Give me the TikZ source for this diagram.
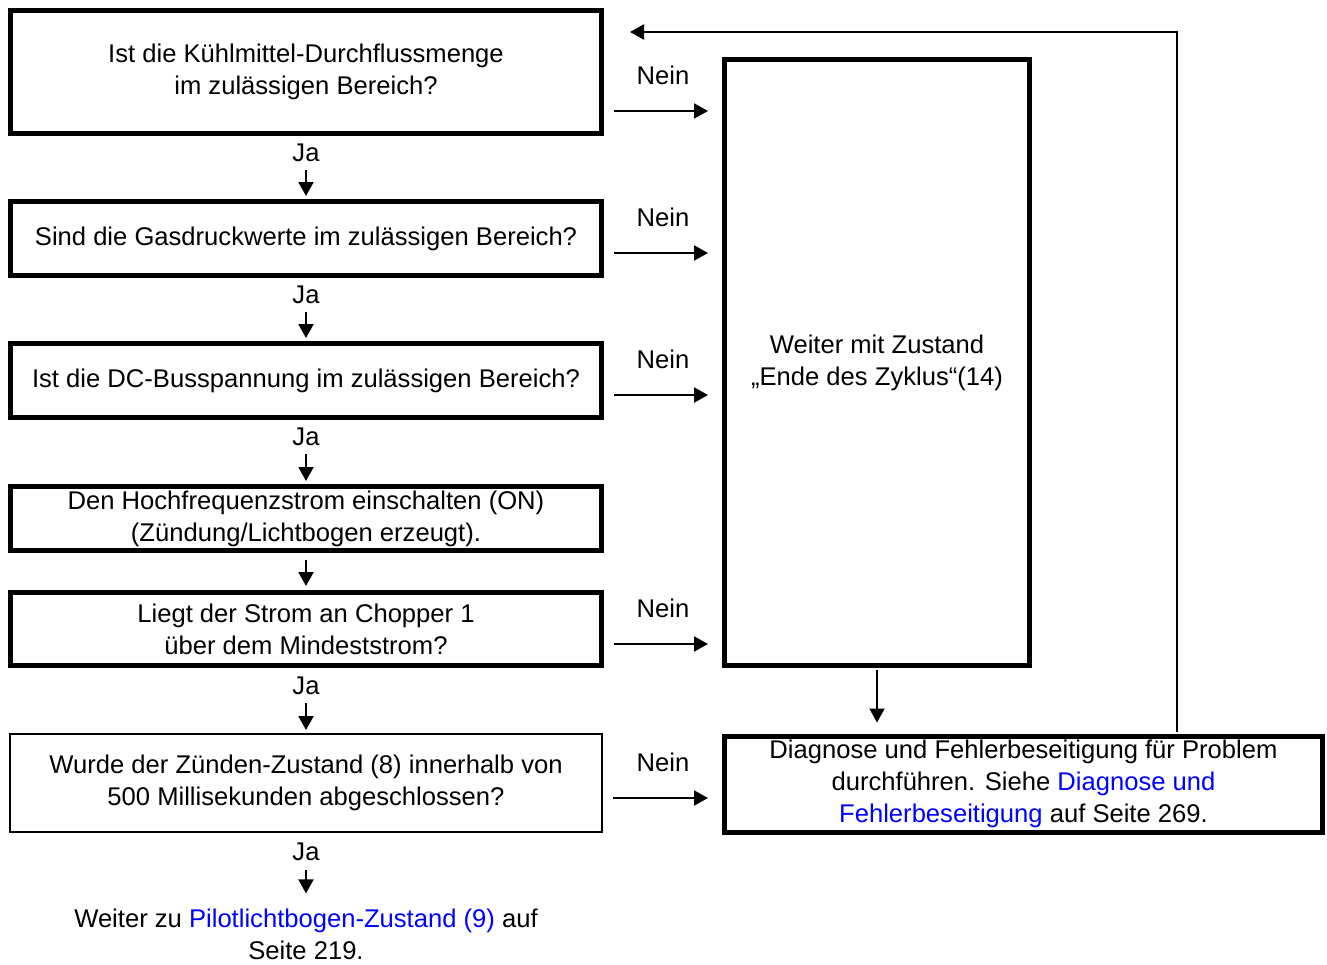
\documentclass[tikz,border=0pt]{standalone}
\usepackage{fontspec}
\setmainfont{Liberation Sans}
\usetikzlibrary{arrows.meta,positioning}
\definecolor{linkblue}{RGB}{0,0,255}
\begin{document}
\begin{tikzpicture}[x=1pt,y=-1pt,
  every node/.style={font=\fontsize{25.6}{32}\selectfont, align=center, inner sep=0pt},
  thickbox/.style={draw, line width=5pt, minimum width=#1},
  thinbox/.style={draw, line width=2pt},
  flow/.style={line width=2pt, -{Triangle[length=14pt,width=15pt]}}]
\useasboundingbox (0,0) rectangle (1327,964);

% question boxes on the left
\node[thickbox=591pt, minimum height=123pt] (b1) at (306,72)
  {Ist die Kühlmittel-Durchflussmenge\\im zulässigen Bereich?};
\node[thickbox=591pt, minimum height=74pt] (b2) at (306,238.5)
  {Sind die Gasdruckwerte im zulässigen Bereich?};
\node[thickbox=591pt, minimum height=74pt] (b3) at (306,380.5)
  {Ist die DC-Busspannung im zulässigen Bereich?};
\node[thickbox=591pt, minimum height=64pt] (b4) at (306,518.5)
  {Den Hochfrequenzstrom einschalten (ON)\\(Zündung/Lichtbogen erzeugt).};
\node[thickbox=591pt, minimum height=73pt] (b5) at (306,629)
  {Liegt der Strom an Chopper 1\\über dem Mindeststrom?};
\node[thinbox, minimum width=592pt, minimum height=98pt] (b6) at (306,783)
  {Wurde der Zünden-Zustand (8) innerhalb von\\500 Millisekunden abgeschlossen?};
\node (done) at (306,934)
  {Weiter zu \textcolor{linkblue}{Pilotlichtbogen-Zustand (9)} auf\\Seite 219.};

% right column
\node[thickbox=305pt, minimum height=606pt] (cycle) at (877,362.5)
  {Weiter mit Zustand\\„Ende des Zyklus“(14)};
\node[thickbox=598pt, minimum height=96pt] (diag) at (1023.5,784)
  {Diagnose und Fehlerbeseitigung für Problem\\durchführen. Siehe \textcolor{linkblue}{Diagnose und}\\\textcolor{linkblue}{Fehlerbeseitigung} auf Seite 269.};

% "Ja" labels
\node (ja1) at (306,153) {Ja};
\node (ja2) at (306,295) {Ja};
\node (ja3) at (306,437) {Ja};
\node (ja5) at (306,686) {Ja};
\node (ja6) at (306,852) {Ja};

% "Ja" arrows
\draw[flow, shorten <=8pt, shorten >=3pt] (ja1.south) -- (b2.north);
\draw[flow, shorten <=8pt, shorten >=3pt] (ja2.south) -- (b3.north);
\draw[flow, shorten <=8pt, shorten >=3pt] (ja3.south) -- (b4.north);
\draw[flow, shorten <=7pt, shorten >=4pt] (b4.south) -- (b5.north);
\draw[flow, shorten <=8pt, shorten >=3pt] (ja5.south) -- (b6.north);
\draw[flow, shorten <=9pt, shorten >=15pt] (ja6.south) -- (done.north);

% "Nein" arrows
\foreach \b/\dy in {b1/39, b2/14.5, b3/14.5, b5/15, b6/15} {
  \draw[flow, shorten <=10pt, shorten >=14pt]
    ([yshift=-\dy pt]\b.east) -- ([yshift=-\dy pt]\b.east -| cycle.west);
  \node at ([yshift=36pt-\dy pt]\b.east -| 663,0) {Nein};
}

% cycle end to diagnosis, and feedback loop
\draw[flow, shorten <=2pt, shorten >=11pt] (cycle.south) -- (cycle.south |- diag.north);
\coordinate (fbend) at (630,32);
\draw[flow, shorten <=2pt] ([xshift=153.5pt]diag.north) |- (fbend);
\end{tikzpicture}
\end{document}
